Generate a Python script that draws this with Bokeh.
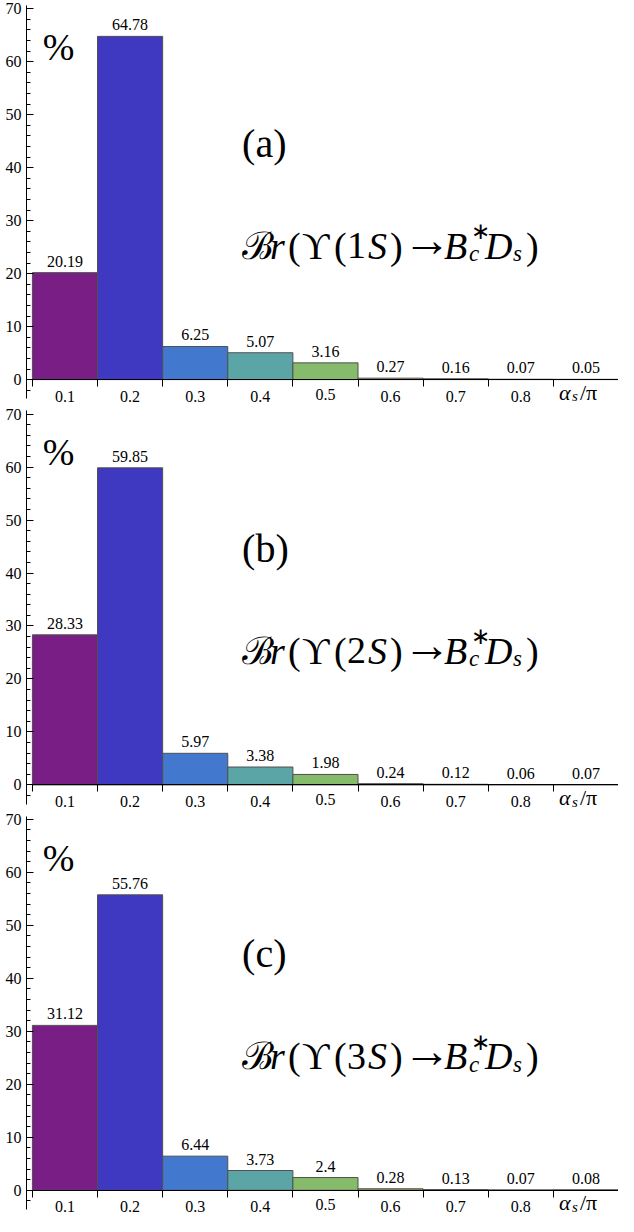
from bokeh.plotting import figure
from bokeh.models import ColumnDataSource, LinearAxis, FixedTicker, Label, Range1d
from bokeh.embed import file_html
from bokeh.resources import INLINE
from bokeh.core.properties import value

# ---------------- data ----------------
alpha_values = [0.1, 0.2, 0.3, 0.4, 0.5, 0.6, 0.7, 0.8, 0.9]
br_1S = [20.19, 64.78, 6.25, 5.07, 3.16, 0.27, 0.16, 0.07, 0.05]
br_2S = [28.33, 59.85, 5.97, 3.38, 1.98, 0.24, 0.12, 0.06, 0.07]
br_3S = [31.12, 55.76, 6.44, 3.73, 2.4, 0.28, 0.13, 0.07, 0.08]
x_tick_labels = ["0.1", "0.2", "0.3", "0.4", "0.5", "0.6", "0.7", "0.8", ""]
y_ticks = [0, 10, 20, 30, 40, 50, 60, 70]
y_minor = [-2] + list(range(0, 71, 2))
panel_tags = ["(a)", "(b)", "(c)"]
states = ["1S", "2S", "3S"]
bar_colors = ["#781E84", "#3F38C1", "#4279CF", "#5BA5A6", "#86BB6C",
              "#A9A24E", "#B98040", "#B45A42", "#A83C3C"]

SERIF = "Liberation Serif"
BAR_W = 0.1
PANEL = 76.5        # vertical data span of one panel (three panels share one figure)
TOP = 71.55
BOTTOM_PAD = PANEL - TOP
Y_AXIS_X = 0.041    # x position of the vertical axes

p = figure(width=618, height=1216, x_range=Range1d(0.001, 0.95),
           y_range=Range1d(-BOTTOM_PAD - 2 * PANEL, TOP), output_backend="svg",
           toolbar_location=None, x_axis_location=None, y_axis_location=None,
           min_border_left=0, min_border_right=0, min_border_top=0,
           min_border_bottom=0)
p.outline_line_color = None
p.xgrid.visible = False
p.ygrid.visible = False

series = [br_1S, br_2S, br_3S]
xs, bottoms, tops, colors, labels = [], [], [], [], []
for k, vals in enumerate(series):
    off = -k * PANEL
    for a, v, c in zip(alpha_values, vals, bar_colors):
        xs.append(a)
        bottoms.append(off)
        tops.append(off + v)
        colors.append(c)
        labels.append(f"{v:g}")

src = ColumnDataSource(dict(x=xs, bottom=bottoms, top=tops, color=colors, label=labels))
p.vbar(x="x", top="top", bottom="bottom", width=BAR_W, fill_color="color",
       line_color="#505050", line_width=1, source=src)
p.text(x="x", y="top", text="label", text_align="center", text_baseline="bottom",
       y_offset=-6, text_font=value(SERIF), text_font_size="16px",
       text_color="black", source=src)

centers = alpha_values[:-1]
formula_parts = [("ℬ", 0, 0, "38px", "normal"),
                 ("r", 28, 0, "38px", "italic"),
                 ("(", 46, 0, "38px", "normal"),
                 ("ϒ", 60, 0, "38px", "normal"),
                 ("(", 92, 0, "38px", "normal"),
                 (None, 105, 0, "38px", "normal"),      # digit of the state
                 (None, 126, 0, "38px", "italic"),      # S
                 (")", 148, 0, "38px", "normal"),
                 ("→", 161, 6, "48px", "normal"),
                 ("B", 202, 0, "38px", "italic"),
                 ("∗", 229, 14, "23px", "normal"),
                 ("c", 227, -8, "23px", "italic"),
                 ("D", 243, 0, "38px", "italic"),
                 ("s", 271, -8, "23px", "italic"),
                 (")", 284, 0, "38px", "normal")]

for k, (tag, state) in enumerate(zip(panel_tags, states)):
    off = -k * PANEL
    yax = LinearAxis(fixed_location=Y_AXIS_X,
                     ticker=FixedTicker(ticks=[off + t for t in y_ticks],
                                        minor_ticks=[off + m for m in y_minor]),
                     major_label_overrides={off + t: str(t) for t in y_ticks},
                     bounds=(off - 3.6, off + 70.6),
                     major_tick_in=7, major_tick_out=0,
                     minor_tick_in=4, minor_tick_out=0,
                     major_label_standoff=5,
                     major_label_text_font=SERIF,
                     major_label_text_font_size="16px",
                     major_label_text_color="black",
                     axis_line_color="black", major_tick_line_color="black",
                     minor_tick_line_color="black")
    p.add_layout(yax, "left")

    overrides = {c: lab for c, lab in zip(centers, x_tick_labels)}
    overrides[0.5] = ""
    xax = LinearAxis(fixed_location=off,
                     ticker=FixedTicker(ticks=centers,
                                        minor_ticks=[c - BAR_W / 2 for c in alpha_values]),
                     major_label_overrides=overrides,
                     bounds=(Y_AXIS_X, 0.95),
                     major_tick_in=0, major_tick_out=0,
                     minor_tick_in=0, minor_tick_out=7,
                     major_label_standoff=4,
                     major_label_text_font=SERIF,
                     major_label_text_font_size="16px",
                     major_label_text_color="black",
                     axis_line_color="black", minor_tick_line_color="black")
    p.add_layout(xax, "below")

    # lowered 0.5 tick label
    p.add_layout(Label(x=0.5, y=off, text=x_tick_labels[4], text_align="center",
                       text_baseline="top", y_offset=-9, text_font=SERIF,
                       text_font_size="16px", text_color="black"))

    # alpha_s / pi
    for t, dx, dy, fs, st in [("α", -27, 0, "22px", "italic"),
                              ("s", -14, -4, "15px", "italic"),
                              ("/π", -6, 0, "22px", "normal")]:
        p.add_layout(Label(x=0.9, y=off - 2.4, text=t, x_offset=dx, y_offset=dy,
                           text_baseline="alphabetic", text_font=SERIF,
                           text_font_size=fs, text_font_style=st,
                           text_color="black"))

    # percent sign
    p.add_layout(Label(x=0.066, y=off + 62.8, text="%", text_baseline="alphabetic",
                       text_font=SERIF, text_font_size="38px", text_color="black"))
    # panel tag
    p.add_layout(Label(x=0.372, y=off + 44.6, text=tag, text_baseline="alphabetic",
                       text_font=SERIF, text_font_size="40px", text_color="black"))
    # formula
    for i, (t, dx, dy, fs, st) in enumerate(formula_parts):
        if i == 5:
            t = state[0]
        elif i == 6:
            t = state[1]
        p.add_layout(Label(x=0.372, y=off + 25.3, text=t, x_offset=dx, y_offset=dy,
                           text_baseline="alphabetic", text_font=SERIF,
                           text_font_size=fs, text_font_style=st,
                           text_color="black"))

open("out.html", "w").write(file_html(p, INLINE))
